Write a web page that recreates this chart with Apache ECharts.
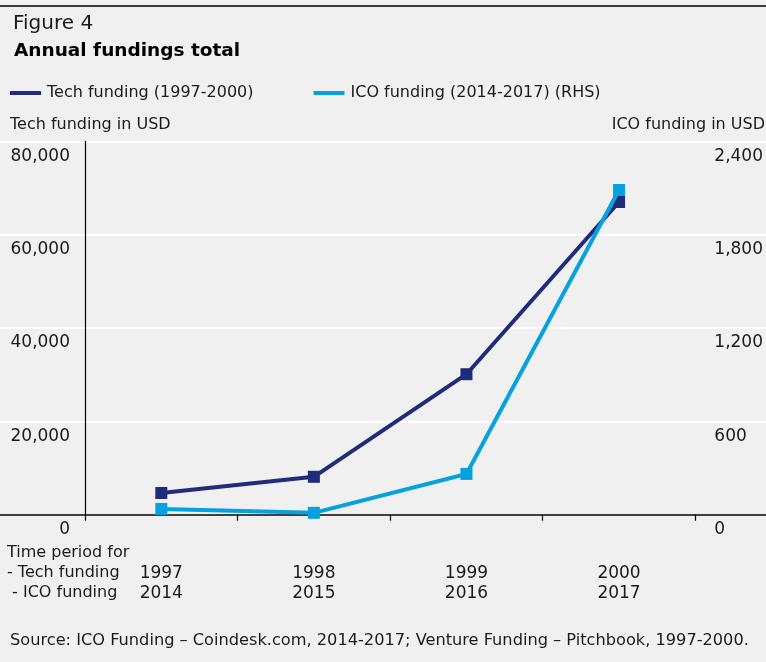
<!DOCTYPE html>
<html>
<head>
<meta charset="utf-8">
<script src="https://cdn.jsdelivr.net/npm/echarts@6/dist/echarts.min.js"></script>
<style>
html,body{margin:0;padding:0;background:#f0f0f0;}
#c{width:766px;height:662px;}
</style>
</head>
<body>
<div id="c"></div>
<script>
var techYears = ['1997', '1998', '1999', '2000'];
var icoYears = ['2014', '2015', '2016', '2017'];
var techFunding = [4650, 8120, 30100, 67000];
var icoFunding = [37, 12, 262, 2087];
var leftTicks = { min: 0, max: 80000, interval: 20000 };
var rightTicks = { min: 0, max: 2400, interval: 600 };

var FONT = 'DejaVu Sans';
var TXT = '#1a1a1a';
var TECH = '#1f2b7b';
var ICO = '#05a2df';
var TOP = 141.3, BOTTOM = 662 - 514.7;

var chart = echarts.init(document.getElementById('c'), null, { renderer: 'canvas' });
var categories = techYears.map(function (t, i) { return t + '\n' + icoYears[i]; });

function fmt(v) { return v.toLocaleString('en-US'); }

chart.setOption({
  backgroundColor: '#f0f0f0',
  animation: false,
  textStyle: { fontFamily: FONT, color: TXT },
  title: [
    { text: 'Figure 4', left: 8, top: 9, textStyle: { fontFamily: FONT, fontSize: 20, fontWeight: 'normal', color: TXT } },
    { text: 'Annual fundings total', left: 9, top: 37, textStyle: { fontFamily: FONT, fontSize: 18.5, fontWeight: 'bold', color: '#000' } }
  ],
  legend: {
    left: 10, top: 85, padding: 0, itemWidth: 31, itemHeight: 4, itemGap: 60, icon: 'rect',
    textStyle: { fontFamily: FONT, fontSize: 16, color: TXT, padding: [0, 0, 0, 1] },
    data: ['Tech funding (1997-2000)', 'ICO funding (2014-2017) (RHS)']
  },
  grid: [
    { left: 85, right: 68, top: TOP, bottom: BOTTOM },
    { left: 0, right: 0, top: TOP, bottom: BOTTOM }
  ],
  xAxis: [
    {
      type: 'category', gridIndex: 0, data: categories, boundaryGap: true,
      axisLine: { show: false },
      axisTick: { show: true, length: 6, lineStyle: { color: '#000', width: 1.2 } },
      axisLabel: { fontFamily: FONT, fontSize: 17, color: TXT, lineHeight: 20, margin: 49, verticalAlign: 'top' }
    },
    {
      type: 'category', gridIndex: 1, data: ['a'],
      axisLine: { show: true, lineStyle: { color: '#000', width: 1.5 } },
      axisTick: { show: false }, axisLabel: { show: false }
    }
  ],
  yAxis: [
    {
      type: 'value', gridIndex: 0, min: leftTicks.min, max: leftTicks.max, interval: leftTicks.interval,
      axisLine: { show: true, lineStyle: { color: '#000', width: 1.2 } },
      axisTick: { show: false }, splitLine: { show: false },
      axisLabel: { fontFamily: FONT, fontSize: 17, color: TXT, margin: 15, verticalAlign: 'top', lineHeight: 20, padding: [5, 0, 0, 0], formatter: fmt }
    },
    {
      type: 'value', gridIndex: 0, position: 'right', min: rightTicks.min, max: rightTicks.max, interval: rightTicks.interval,
      axisLine: { show: false }, axisTick: { show: false }, splitLine: { show: false },
      axisLabel: { fontFamily: FONT, fontSize: 17, color: TXT, margin: 19, align: 'left', verticalAlign: 'top', lineHeight: 20, padding: [5, 0, 0, 0], formatter: fmt }
    },
    {
      type: 'value', gridIndex: 1, min: leftTicks.min, max: leftTicks.max, interval: leftTicks.interval,
      axisLine: { show: false }, axisTick: { show: false }, axisLabel: { show: false },
      splitLine: { show: true, lineStyle: { color: '#ffffff', width: 2 } }
    }
  ],
  series: [
    {
      name: 'Tech funding (1997-2000)', type: 'line', xAxisIndex: 0, yAxisIndex: 0, data: techFunding,
      symbol: 'rect', symbolSize: 12, showAllSymbol: true,
      lineStyle: { color: TECH, width: 4 }, itemStyle: { color: TECH }, z: 3
    },
    {
      name: 'ICO funding (2014-2017) (RHS)', type: 'line', xAxisIndex: 0, yAxisIndex: 1, data: icoFunding,
      symbol: 'rect', symbolSize: 12, showAllSymbol: true,
      lineStyle: { color: ICO, width: 4 }, itemStyle: { color: ICO }, z: 4
    }
  ],
  graphic: [
    { type: 'rect', left: 0, top: 5, shape: { width: 766, height: 2 }, style: { fill: '#3a3a3a' } },
    { type: 'text', left: 10, top: 117, style: { text: 'Tech funding in USD', font: '16px "DejaVu Sans"', fill: TXT } },
    { type: 'text', right: 1, top: 117, style: { text: 'ICO funding in USD', font: '16px "DejaVu Sans"', fill: TXT } },
    { type: 'text', left: 7, top: 543, style: { text: 'Time period for\n- Tech funding\n - ICO funding', font: '16px "DejaVu Sans"', lineHeight: 20, fill: TXT } },
    { type: 'text', left: 10, top: 633, style: { text: 'Source: ICO Funding \u2013 Coindesk.com, 2014-2017; Venture Funding \u2013 Pitchbook, 1997-2000.', font: '16.2px "DejaVu Sans"', fill: TXT } }
  ]
});
</script>
</body>
</html>
